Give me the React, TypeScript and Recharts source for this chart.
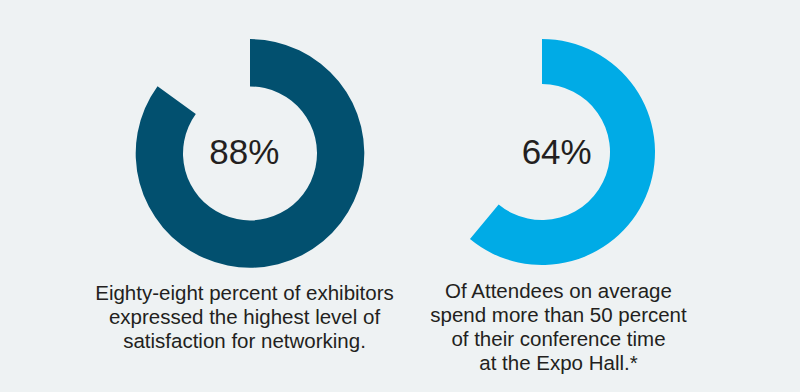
import React from "react";
import { PieChart, Pie, Cell } from "recharts";

const leftLabel = "88%";
const rightLabel = "64%";
// arc shares as drawn in the picture
const leftArc = [
  { name: "share", value: 85 },
  { name: "rest", value: 15 },
];
const rightArc = [
  { name: "share", value: 61 },
  { name: "rest", value: 39 },
];
const leftCaption = [
  "Eighty-eight percent of exhibitors",
  "expressed the highest level of",
  "satisfaction for networking.",
];
const rightCaption = [
  "Of Attendees on average",
  "spend more than 50 percent",
  "of their conference time",
  "at the Expo Hall.*",
];

const BG = "#eef2f3";
const DARK = "#02506f";
const LIGHT = "#00abe6";
const TEXT = "#231f20";
const FONT = "'Liberation Sans', Arial, Helvetica, sans-serif";

const Caption = ({ lines, left, top }: { lines: string[]; left: number; top: number }) => (
  <div
    style={{
      position: "absolute",
      left: left - 200,
      top,
      width: 400,
      textAlign: "center",
      fontFamily: FONT,
      fontSize: 20.5,
      lineHeight: "24px",
      color: TEXT,
    }}
  >
    {lines.map((l, i) => (
      <div key={i}>{l}</div>
    ))}
  </div>
);

const Big = ({ text, left, top }: { text: string; left: number; top: number }) => (
  <div
    style={{
      position: "absolute",
      left: left - 100,
      top,
      width: 200,
      textAlign: "center",
      fontFamily: FONT,
      fontSize: 35,
      lineHeight: "35px",
      color: TEXT,
    }}
  >
    {text}
  </div>
);

export default function App() {
  return (
    <div
      style={{
        position: "absolute",
        left: 0,
        top: 0,
        width: 800,
        height: 392,
        background: BG,
        overflow: "hidden",
      }}
    >
      <PieChart width={800} height={392} style={{ position: "absolute", left: 0, top: 0 }}>
        <Pie
          data={leftArc}
          dataKey="value"
          cx={245}
          cy={148.4}
          innerRadius={67}
          outerRadius={114.3}
          startAngle={90}
          endAngle={-270}
          stroke="none"
          isAnimationActive={false}
        >
          <Cell fill={DARK} />
          <Cell fill="transparent" />
        </Pie>
        <Pie
          data={rightArc}
          dataKey="value"
          cx={537}
          cy={147}
          innerRadius={68}
          outerRadius={113}
          startAngle={90}
          endAngle={-270}
          stroke="none"
          isAnimationActive={false}
        >
          <Cell fill={LIGHT} />
          <Cell fill="transparent" />
        </Pie>
      </PieChart>
      <Big text={leftLabel} left={244.3} top={133.5} />
      <Big text={rightLabel} left={556.7} top={133.7} />
      <Caption lines={leftCaption} left={244.5} top={280.5} />
      <Caption lines={rightCaption} left={558.5} top={279.2} />
    </div>
  );
}
